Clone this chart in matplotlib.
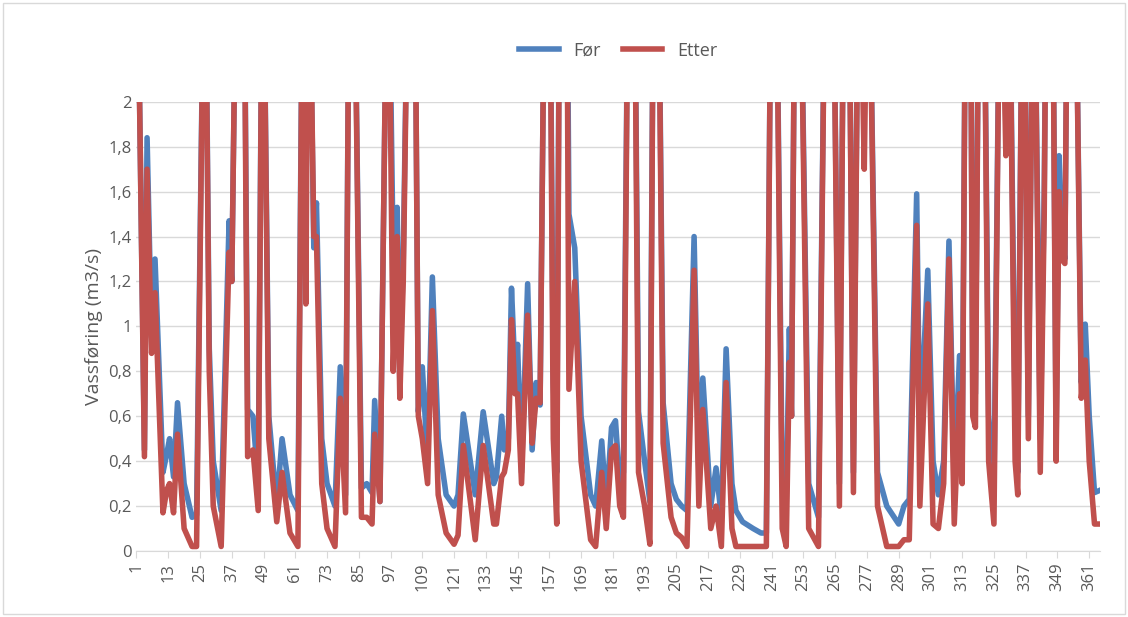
import matplotlib as mpl
mpl.use('Agg')
import matplotlib.pyplot as plt
from matplotlib.ticker import FuncFormatter

plt.rcParams['font.family'] = ['Open Sans', 'DejaVu Sans']

# key points (day, Før, Etter); 3 = above the axis top
days = [1, 4, 5, 6.7, 8, 11, 12.4, 13.5, 15, 16.5, 19, 22, 23.7, 26.8, 28.5, 30, 33, 36, 37,
        39, 41.5, 43, 45, 47, 48.7, 51, 54, 56, 59, 62, 64, 65, 66, 68, 69, 71, 73, 76, 78,
        80, 81.5, 83, 86, 88, 90, 91, 93, 96, 98, 99.5, 100.5, 101.8, 104, 106, 107.5, 109,
        111, 112.8, 115, 118, 121, 122.5, 124.5, 129, 132, 136, 137, 139, 140, 141.5, 142.7,
        144, 145, 146.5, 148.8, 150.5, 152, 153.5, 155.5, 157, 158.5, 159.8, 161, 163.5,
        164.4, 166.6, 169, 172.6, 174.5, 176.8, 178.5, 180.5, 182, 183.6, 185, 187, 189,
        190.7, 193, 195, 196.5, 198, 200, 203, 205, 207, 209, 211.7, 213.5, 215, 218, 220,
        222, 223.8, 226, 227.5, 230, 234, 237, 239, 241, 242.5, 245, 246.5, 247.7, 248.5,
        250, 251.5, 255, 258.7, 261.5, 264, 266.6, 268.5, 270, 271.9, 274, 276, 277.5, 281,
        284.5, 289, 291, 293, 295.8, 297, 300, 302, 304, 306, 308, 310, 312, 313, 314.5, 316,
        317, 318, 319.5, 321, 323, 325, 327.5, 329.5, 330.5, 333, 334, 336, 338, 340, 342.5,
        344, 345, 347, 348.5, 349.6, 350.5, 351.8, 353, 355.5, 358, 359.5, 361, 363, 365]
foer = [3, 0.45, 1.84, 0.95, 1.3, 0.35, 0.43, 0.5, 0.33, 0.66, 0.3, 0.15, 0.16, 3, 0.9, 0.4, 0.18, 1.47, 1.2,
        3, 3, 0.63, 0.6, 0.3, 3, 0.6, 0.2, 0.5, 0.25, 0.18, 3, 3, 3, 1.35, 1.55, 0.5, 0.3, 0.2, 0.82,
        0.25, 3, 3, 0.28, 0.3, 0.26, 0.67, 0.22, 3, 1.3, 1.53, 0.75, 1.3, 3, 3, 0.62, 0.82,
        0.4, 1.22, 0.5, 0.25, 0.2, 0.25, 0.61, 0.25, 0.62, 0.3, 0.33, 0.6, 0.45, 0.5, 1.17,
        0.8, 0.92, 0.35, 1.19, 0.45, 0.75, 0.65, 3, 3, 0.75, 0.35, 3, 3,
        1.5, 1.35, 0.6, 0.25, 0.2, 0.49, 0.2, 0.55, 0.58, 0.3, 0.35, 3, 3,
        0.62, 0.4, 0.22, 3, 3, 0.66, 0.3, 0.23, 0.2, 0.18, 1.4, 0.35, 0.77, 0.2, 0.37,
        0.15, 0.9, 0.3, 0.18, 0.13, 0.1, 0.08, 0.08, 3, 3, 0.3, 0.2, 0.99, 0.6,
        3, 3, 0.3, 0.15, 3, 3, 0.3, 3, 3, 0.35, 3, 3, 3, 0.35,
        0.2, 0.12, 0.2, 0.23, 1.59, 0.5, 1.25, 0.4, 0.25, 0.4, 1.38, 0.3, 0.87, 0.4, 3, 3,
        0.7, 0.7, 3, 3, 0.6, 0.27, 3, 1.9, 3, 0.6, 0.35, 3, 0.6, 3, 0.5,
        1.6, 3, 3, 0.5, 1.76, 1.4, 1.3, 3, 3, 0.75, 1.01, 0.6, 0.26, 0.27]
etter = [3, 0.42, 1.7, 0.88, 1.15, 0.17, 0.27, 0.3, 0.17, 0.52, 0.1, 0.02, 0.02, 3, 0.8, 0.2, 0.02, 1.33, 1.2,
         3, 3, 0.42, 0.45, 0.18, 3, 0.5, 0.13, 0.35, 0.08, 0.02, 3, 1.1, 3, 1.4, 1.4, 0.3, 0.1, 0.02, 0.68,
         0.17, 3, 3, 0.15, 0.15, 0.12, 0.52, 0.22, 3, 0.8, 1.4, 0.68, 1.2, 3, 3, 0.6, 0.5,
         0.3, 1.07, 0.25, 0.08, 0.03, 0.07, 0.47, 0.05, 0.47, 0.12, 0.12, 0.33, 0.35, 0.45, 1.03,
         0.7, 0.7, 0.3, 1.05, 0.48, 0.68, 0.66, 3, 3, 0.5, 0.12, 3, 3,
         0.72, 1.2, 0.4, 0.05, 0.02, 0.35, 0.1, 0.45, 0.47, 0.2, 0.15, 3, 3,
         0.35, 0.2, 0.03, 3, 3, 0.48, 0.15, 0.08, 0.06, 0.02, 1.25, 0.2, 0.63, 0.1, 0.2,
         0.02, 0.75, 0.1, 0.02, 0.02, 0.02, 0.02, 0.02, 3, 3, 0.1, 0.02, 0.84, 0.6,
         3, 3, 0.1, 0.02, 3, 3, 0.2, 3, 3, 0.26, 3, 1.7, 3, 0.2,
         0.02, 0.02, 0.05, 0.05, 1.45, 0.2, 1.1, 0.12, 0.1, 0.3, 1.3, 0.12, 0.7, 0.3, 3, 3,
         0.6, 0.55, 3, 3, 0.4, 0.12, 3, 1.76, 3, 0.4, 0.25, 3, 0.5, 3, 0.35,
         1.5, 3, 3, 0.4, 1.6, 1.3, 1.28, 3, 3, 0.68, 0.85, 0.4, 0.12, 0.12]
xticks = list(range(1, 366, 12))

fig = plt.figure(figsize=(11.28, 6.17), dpi=100)
ax = fig.add_axes([0.121, 0.107, 0.854, 0.728])
ax.plot(days, foer, color='#4F81BD', lw=4, label='Før', solid_joinstyle='round')
ax.plot(days, etter, color='#C0504D', lw=4, label='Etter', solid_joinstyle='round')
ax.set_xlim(1, 365)
ax.set_ylim(0, 2)
ax.set_yticks([i * 0.2 for i in range(11)])
ax.yaxis.set_major_formatter(FuncFormatter(lambda v, p: ('%g' % round(v, 1)).replace('.', ',')))
ax.set_xticks(xticks)
ax.set_xticklabels([str(t) for t in xticks], rotation=90)
ax.tick_params(axis='both', labelsize=12, colors='#595959', length=0)
ax.tick_params(axis='x', length=5, color='#D9D9D9')
ax.grid(axis='y', color='#D9D9D9', lw=1)
ax.set_axisbelow(True)
for s in ['top', 'right', 'left']:
    ax.spines[s].set_visible(False)
ax.spines['bottom'].set_color('#D9D9D9')
ax.set_ylabel('Vassføring (m3/s)', fontsize=14, color='#595959')
ax.legend(loc='upper center', bbox_to_anchor=(0.5, 1.17), ncol=2, frameon=False,
          fontsize=13, labelcolor='#595959', handlelength=2.2, columnspacing=1.2)
fig.patches.append(plt.Rectangle((0.003, 0.005), 0.994, 0.99, transform=fig.transFigure,
                                 fill=False, edgecolor='#D9D9D9', lw=1))
plt.savefig('out.png', dpi=100)
